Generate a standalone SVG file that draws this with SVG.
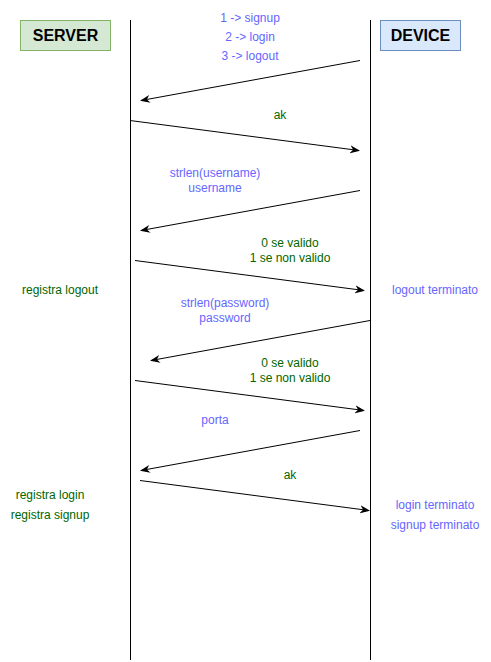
<svg xmlns="http://www.w3.org/2000/svg" width="491" height="662" viewBox="0 0 491 662">
<style>
text{font-family:"Liberation Sans",Arial,sans-serif;font-size:12px;text-anchor:middle}
.b{fill:#6666ff}
.g{fill:#006600}
.h{font-size:16px;font-weight:bold;fill:#000}
.life{stroke:#000;stroke-width:1}
.msg{stroke:#000;stroke-width:1;fill:none;marker-end:url(#ah)}
</style>
<defs>
<marker id="ah" viewBox="0 0 10 10" refX="9" refY="5" markerWidth="10" markerHeight="10" markerUnits="userSpaceOnUse" orient="auto">
<path d="M0,1 L10,5 L0,9 L3,5 Z" fill="#000"/>
</marker>
</defs>
<rect width="491" height="662" fill="#fff"/>
<g id="server">
<rect x="20.5" y="20.5" width="90" height="30" fill="#d5e8d4" stroke="#82b366"/>
<text class="h" x="65.5" y="41">SERVER</text>
</g>
<g id="device">
<rect x="380.5" y="20.5" width="80" height="30" fill="#dae8fc" stroke="#6c8ebf"/>
<text class="h" x="420.5" y="41">DEVICE</text>
</g>
<g id="lifelines">
<line class="life" x1="130.5" y1="20" x2="130.5" y2="660"/>
<line class="life" x1="370.5" y1="20" x2="370.5" y2="660"/>
</g>
<g id="connectors">
<line class="msg" x1="360" y1="60.5" x2="141" y2="100.5"/>
<line class="msg" x1="130" y1="120.5" x2="359" y2="150.5"/>
<line class="msg" x1="360" y1="190.5" x2="141" y2="230.5"/>
<line class="msg" x1="135" y1="260.5" x2="364" y2="290.5"/>
<line class="msg" x1="370" y1="320.5" x2="151" y2="360.5"/>
<line class="msg" x1="135" y1="380.5" x2="364" y2="410.5"/>
<line class="msg" x1="360" y1="430.5" x2="141" y2="470.5"/>
<line class="msg" x1="140" y1="480.5" x2="369" y2="510.5"/>
</g>
<g id="labels">
<text class="b" x="250" y="22">1 -&gt; signup</text>
<text class="b" x="250" y="41">2 -&gt; login</text>
<text class="b" x="250" y="60">3 -&gt; logout</text>
<text class="g" x="280" y="119">ak</text>
<text class="b" x="215" y="177">strlen(username)</text>
<text class="b" x="215" y="192">username</text>
<text class="g" x="290" y="247">0 se valido</text>
<text class="g" x="290" y="262">1 se non valido</text>
<text class="g" x="60" y="294">registra logout</text>
<text class="b" x="435" y="294">logout terminato</text>
<text class="b" x="225" y="307">strlen(password)</text>
<text class="b" x="225" y="322">password</text>
<text class="g" x="290" y="367">0 se valido</text>
<text class="g" x="290" y="382">1 se non valido</text>
<text class="b" x="215" y="424">porta</text>
<text class="g" x="290" y="479">ak</text>
<text class="g" x="50" y="499">registra login</text>
<text class="g" x="50" y="519">registra signup</text>
<text class="b" x="435" y="509">login terminato</text>
<text class="b" x="435" y="529">signup terminato</text>
</g>
</svg>
